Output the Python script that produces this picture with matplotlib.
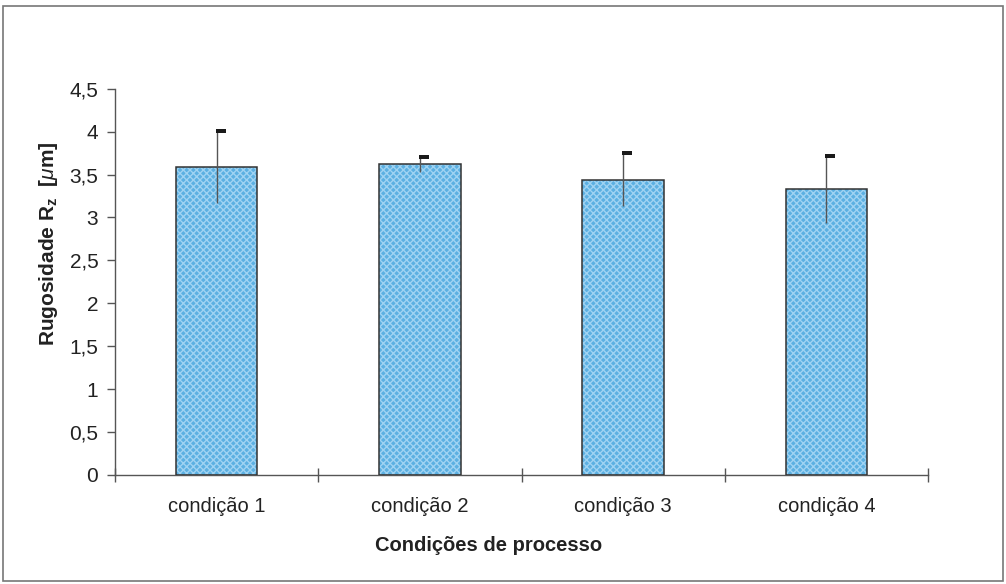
import matplotlib
matplotlib.use("Agg")
import matplotlib.pyplot as plt
from matplotlib.patches import Rectangle
from matplotlib.path import Path
import numpy as np

plt.rcParams['font.family'] = ['Liberation Sans', 'DejaVu Sans']
plt.rcParams['mathtext.fontset'] = 'custom'
plt.rcParams['mathtext.rm'] = 'Liberation Sans'
plt.rcParams['mathtext.it'] = 'Liberation Sans:italic'
plt.rcParams['mathtext.bf'] = 'Liberation Sans:bold'

# Surface roughness Rz per process condition
categories = ['condição 1', 'condição 2', 'condição 3', 'condição 4']
rz_mean = [3.59, 3.62, 3.44, 3.33]
rz_err = [0.42, 0.09, 0.31, 0.39]
y_ticks = [0, 0.5, 1, 1.5, 2, 2.5, 3, 3.5, 4, 4.5]
y_tick_labels = ['0', '0,5', '1', '1,5', '2', '2,5', '3', '3,5', '4', '4,5']

fig = plt.figure(figsize=(10.06, 5.84), dpi=100)
ax = fig.add_axes([0.1143, 0.187, 0.8082, 0.661])

x = np.arange(len(categories))
bar_color = '#5cb0e2'
dot_color = '#9fd3f2'
edge = '#333333'

plt.rcParams['hatch.linewidth'] = 1.0
ax.bar(x, rz_mean, width=0.4, color=bar_color, edgecolor=dot_color,
       linewidth=0, hatch='xxxxx', zorder=2)
ax.bar(x, rz_mean, width=0.4, fill=False, edgecolor=edge,
       linewidth=1.1, zorder=3)

# Error whiskers with a flag-shaped cap on the upper end
ax.errorbar(x, rz_mean, yerr=rz_err, fmt='none', ecolor='#555555',
            elinewidth=1.0, capsize=0, zorder=4)
cap = Path([(-0.12, -0.19), (1, -0.19), (1, 0.19), (-0.12, 0.19), (-0.12, -0.19)],
           [Path.MOVETO, Path.LINETO, Path.LINETO, Path.LINETO, Path.CLOSEPOLY])
upper = np.array(rz_mean) + np.array(rz_err)
ax.plot(x, upper, linestyle='none', marker=cap, markersize=12.5,
        color='#1a1a1a', markeredgewidth=0, zorder=5)

ax.set_xlim(-0.5, 3.5)
ax.set_ylim(0, 4.5)
ax.set_yticks(y_ticks)
ax.set_yticklabels(y_tick_labels, fontsize=15, color='#222222')
ax.set_xticks(x)
ax.set_xticklabels(categories, fontsize=14.5, color='#222222')
ax.set_xticks(np.arange(-0.5, 4.0, 1.0), minor=True)
ax.tick_params(axis='x', which='major', length=0, pad=16)
ax.tick_params(axis='x', which='minor', direction='inout', length=10,
               color='#555555', width=1.0)
ax.tick_params(axis='y', direction='out', length=6, color='#555555',
               width=1.0, pad=6)

for side in ['top', 'right']:
    ax.spines[side].set_visible(False)
for side in ['left', 'bottom']:
    ax.spines[side].set_color('#555555')
    ax.spines[side].set_linewidth(1.0)

ax.set_xlabel('Condições de processo', fontsize=14.5, fontweight='bold',
              color='#222222')
ax.set_ylabel(r'Rugosidade R$_{\mathbf{z}}$  [$\mu$m]', fontsize=15,
              fontweight='bold', color='#222222')
ax.xaxis.set_label_coords(0.459, -0.158)
ax.yaxis.set_label_coords(-0.068, 0.60)

# Outer chart frame
fig.patches.append(Rectangle((3 / 1006, 3 / 584), 1000 / 1006, 575 / 584,
                             transform=fig.transFigure, fill=False,
                             edgecolor='#777777', linewidth=1.2))

fig.savefig('out.png', dpi=100, facecolor='white')
